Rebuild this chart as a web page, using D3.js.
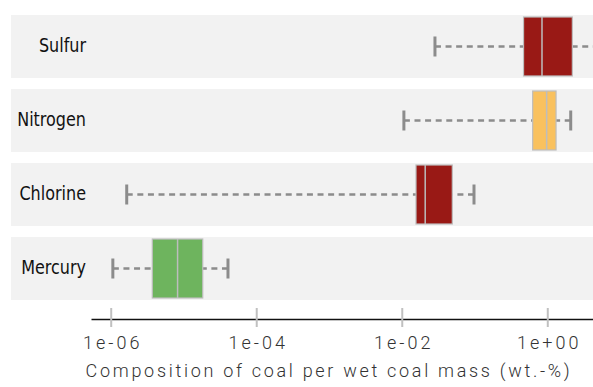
<!DOCTYPE html>
<html>
<head>
<meta charset="utf-8">
<script src="https://cdn.jsdelivr.net/npm/d3@7"></script>
<style>
  body { margin: 0; background: #fff; }
</style>
</head>
<body>
<div id="chart"></div>
<script>
// box-plot summaries (wt.-%)
var elements = ["Sulfur", "Nitrogen", "Chlorine", "Mercury"];
var mins    = [0.0286, 0.0107, 1.66e-6, 1.07e-6];
var q1s     = [0.472,  0.63,   0.0157,  3.73e-6];
var medians = [0.846,  0.98,   0.021,   8.3e-6];
var q3s     = [2.21,   1.32,   0.0495,  1.84e-5];
var maxs    = [10,     2.10,   0.0984,  4.09e-5];
var colors  = ["#991915", "#f9c15e", "#991915", "#6eb45e"];

var tickValues = [1e-6, 1e-4, 1e-2, 1];
var tickLabels = ["1e-06", "1e-04", "1e-02", "1e+00"];
var axisTitle = "Composition of coal per wet coal mass (wt.-%)";

var width = 593, height = 387;

var data = elements.map((name, i) => ({
    name: name,
    min: mins[i], q1: q1s[i], median: medians[i], q3: q3s[i], max: maxs[i],
    color: colors[i]
}));

var svg = d3.select("#chart")
    .append("svg")
    .attr("width", width)
    .attr("height", height);

// axis line runs from x=91 to the right edge
var x = d3.scaleLog()
    .domain([5.36e-7, 4.25])
    .range([91, 593]);

var y = d3.scaleBand()
    .domain(elements)
    .range([15, 300])
    .paddingInner(0.149)
    .paddingOuter(0);

// grey row backgrounds
svg.selectAll(".row")
    .data(data)
    .enter()
    .append("rect")
    .attr("class", "row")
    .attr("x", 11)
    .attr("y", d => y(d.name))
    .attr("width", width - 11)
    .attr("height", y.bandwidth())
    .style("fill", "#f2f2f2");

// row labels, right aligned, squeezed to look condensed
svg.selectAll(".label")
    .data(data)
    .enter()
    .append("text")
    .attr("class", "label")
    .attr("transform", d => "translate(86," + (y(d.name) + y.bandwidth() / 2 + 5.5) + ") scale(0.8,1)")
    .attr("text-anchor", "end")
    .style("font-family", "'DejaVu Sans', sans-serif")
    .style("font-size", "20px")
    .style("fill", "#111")
    .text(d => d.name);

var boxes = svg.selectAll(".box")
    .data(data)
    .enter()
    .append("g")
    .attr("class", "box");

var mid = d => y(d.name) + y.bandwidth() / 2;

// dashed whiskers
boxes.append("line")
    .attr("x1", d => x(d.min))
    .attr("x2", d => x(d.q1))
    .attr("y1", mid).attr("y2", mid)
    .style("stroke", "#8c8c8c")
    .style("stroke-width", 2.5)
    .style("stroke-dasharray", "6,4.6");
boxes.append("line")
    .attr("x1", d => x(d.max))
    .attr("x2", d => x(d.q3))
    .attr("y1", mid).attr("y2", mid)
    .style("stroke", "#8c8c8c")
    .style("stroke-width", 2.5)
    .style("stroke-dasharray", "6,4.6");

// whisker caps
["min", "max"].forEach(k => {
    boxes.append("line")
        .attr("x1", d => x(d[k]))
        .attr("x2", d => x(d[k]))
        .attr("y1", d => mid(d) - 10)
        .attr("y2", d => mid(d) + 10)
        .style("stroke", "#8c8c8c")
        .style("stroke-width", 3);
});

boxes.append("rect")
    .attr("x", d => x(d.q1))
    .attr("y", d => y(d.name) + 2)
    .attr("width", d => x(d.q3) - x(d.q1))
    .attr("height", y.bandwidth() - 4)
    .style("fill", d => d.color)
    .style("stroke", "#bdbdbd")
    .style("stroke-width", 1.2);

boxes.append("line")
    .attr("x1", d => x(d.median))
    .attr("x2", d => x(d.median))
    .attr("y1", d => y(d.name) + 2)
    .attr("y2", d => y(d.name) + y.bandwidth() - 2)
    .style("stroke", "#bdbdbd")
    .style("stroke-width", 1.5);

// bottom axis
var axisY = 319;
var gx = svg.append("g")
    .attr("transform", "translate(0," + axisY + ")")
    .call(d3.axisBottom(x)
        .tickValues(tickValues)
        .tickFormat((d, i) => tickLabels[i])
        .tickSizeOuter(0));

gx.select(".domain")
    .style("stroke", "#111")
    .style("stroke-width", 1.3);
gx.selectAll(".tick line")
    .attr("y1", -11)
    .attr("y2", 8)
    .style("stroke", "#c0c0c0")
    .style("stroke-width", 2);
gx.selectAll(".tick text")
    .attr("y", 30)
    .attr("dy", 0)
    .attr("dx", 1.5)
    .style("font-family", "Roboto, sans-serif")
    .style("font-weight", 300)
    .style("font-size", "18px")
    .style("letter-spacing", "3px")
    .style("fill", "#333");

svg.append("text")
    .attr("x", 329)
    .attr("y", 377)
    .attr("text-anchor", "middle")
    .style("font-family", "Roboto, sans-serif")
    .style("font-weight", 300)
    .style("font-size", "18px")
    .style("letter-spacing", "2.7px")
    .style("fill", "#333")
    .text(axisTitle);
</script>
</body>
</html>
